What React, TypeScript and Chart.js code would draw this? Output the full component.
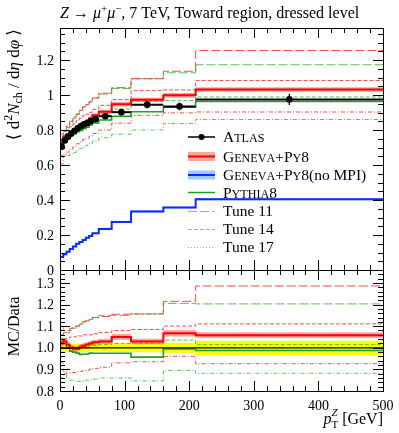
import React, { useEffect, useRef } from 'react';
import { Chart, registerables } from 'chart.js';

Chart.register(...registerables);

// ---------------- data ----------------
const binEdges = [0, 5, 10, 15, 20, 25, 30, 35, 40, 45, 50, 60, 80, 110, 160, 210, 500];

const atlasValues = [0.705, 0.74, 0.762, 0.78, 0.795, 0.81, 0.822, 0.832, 0.84, 0.85, 0.862, 0.879, 0.902, 0.945, 0.935, 0.975];
const atlasErrors = [0.018, 0.016, 0.015, 0.015, 0.015, 0.015, 0.015, 0.015, 0.015, 0.015, 0.015, 0.016, 0.018, 0.02, 0.022, 0.032];

const genevaPy8 = [0.719, 0.762, 0.773, 0.78, 0.791, 0.806, 0.826, 0.84, 0.853, 0.867, 0.884, 0.905, 0.947, 0.973, 0.998, 1.032];
const genevaPy8Err = [0.012, 0.01, 0.01, 0.01, 0.01, 0.01, 0.01, 0.01, 0.01, 0.01, 0.01, 0.011, 0.013, 0.012, 0.014, 0.013];

const genevaNoMPI = [0.075, 0.09, 0.105, 0.12, 0.135, 0.15, 0.16, 0.172, 0.185, 0.195, 0.21, 0.235, 0.275, 0.335, 0.357, 0.405];
const genevaNoMPIErr = [0.005, 0.005, 0.005, 0.005, 0.005, 0.005, 0.005, 0.005, 0.005, 0.005, 0.005, 0.006, 0.006, 0.006, 0.006, 0.006];

const pythia8 = [0.733, 0.755, 0.762, 0.768, 0.779, 0.79, 0.797, 0.807, 0.816, 0.829, 0.84, 0.857, 0.879, 0.904, 0.93, 0.963];

const genevaTune11 = [0.747, 0.792, 0.823, 0.85, 0.875, 0.891, 0.912, 0.932, 0.945, 0.961, 0.983, 1.006, 1.042, 1.093, 1.136, 1.254];
const pythiaTune11 = [0.776, 0.799, 0.815, 0.842, 0.867, 0.891, 0.912, 0.932, 0.945, 0.961, 0.983, 1.011, 1.037, 1.093, 1.127, 1.173];
const genevaTune14 = [0.726, 0.77, 0.796, 0.819, 0.835, 0.855, 0.867, 0.882, 0.89, 0.901, 0.918, 0.941, 0.974, 1.025, 1.029, 1.083];
const pythiaTune14 = [0.747, 0.77, 0.777, 0.788, 0.795, 0.81, 0.822, 0.832, 0.844, 0.859, 0.871, 0.892, 0.92, 0.964, 0.968, 0.989];
const genevaTune17 = [0.606, 0.651, 0.674, 0.69, 0.704, 0.721, 0.732, 0.745, 0.752, 0.765, 0.78, 0.8, 0.839, 0.884, 0.898, 0.903];
const pythiaTune17 = [0.656, 0.659, 0.655, 0.663, 0.672, 0.684, 0.695, 0.703, 0.714, 0.723, 0.737, 0.756, 0.776, 0.8, 0.837, 0.86];

const xTickValues = [0, 100, 200, 300, 400, 500];
const xTickLabels = ['0', '100', '200', '300', '400', '500'];
const yMainTickValues = [0, 0.2, 0.4, 0.6, 0.8, 1, 1.2];
const yMainTickLabels = ['0', '0.2', '0.4', '0.6', '0.8', '1', '1.2'];
const yRatioTickValues = [0.8, 0.9, 1.0, 1.1, 1.2, 1.3];
const yRatioTickLabels = ['0.8', '0.9', '1.0', '1.1', '1.2', '1.3'];

const X_MIN = 0, X_MAX = 500;
const Y_MAIN_MIN = 0, Y_MAIN_MAX = 1.383;
const Y_RATIO_MIN = 0.8, Y_RATIO_MAX = 1.36;

// ---------------- styles ----------------
const SERIF = '"Liberation Serif", "DejaVu Serif", serif';
const font = (size: number, italic = false) => `${italic ? 'italic ' : ''}${size}px ${SERIF}`;

const RED = '#ff0000';
const RED_BAND = 'rgba(255, 90, 80, 0.55)';
const BLUE = '#0a2cff';
const BLUE_BAND = 'rgba(90, 170, 255, 0.6)';
const GREEN = '#1fa01f';
const RED_TUNE = 'rgba(255, 40, 40, 0.85)';
const GREEN_TUNE = 'rgba(60, 185, 60, 0.85)';
const YELLOW = '#ffff00';
const DASH11 = [9, 3];
const DASH14 = [4, 2];
const DASH17 = [4, 2, 1, 2];

// ---------------- helpers ----------------
function stepPoints(values: number[]) {
  const pts: { x: number; y: number }[] = [];
  values.forEach((v, i) => {
    pts.push({ x: binEdges[i], y: v });
    pts.push({ x: binEdges[i + 1], y: v });
  });
  return pts;
}

const ratio = (vals: number[]) => vals.map((v, i) => v / atlasValues[i]);
const plus = (vals: number[], err: number[]) => vals.map((v, i) => v + err[i]);
const minus = (vals: number[], err: number[]) => vals.map((v, i) => v - err[i]);

function lineDs(data: number[], yAxisID: string, color: string, width: number, dash: number[] = []) {
  return {
    type: 'line',
    data: stepPoints(data),
    yAxisID,
    borderColor: color,
    borderWidth: width,
    borderDash: dash,
    pointRadius: 0,
    fill: false,
    tension: 0,
  };
}

function bandDs(lo: number[], hi: number[], yAxisID: string, color: string) {
  return [
    {
      type: 'line',
      data: stepPoints(hi),
      yAxisID,
      borderColor: 'rgba(0,0,0,0)',
      borderWidth: 1,
      pointRadius: 0,
      fill: '+1',
      backgroundColor: color,
      tension: 0,
    },
    {
      type: 'line',
      data: stepPoints(lo),
      yAxisID,
      borderColor: 'rgba(0,0,0,0)',
      borderWidth: 1,
      pointRadius: 0,
      fill: false,
      tension: 0,
    },
  ];
}

// segment; "hold" = do not advance (next segment stacked at the same x)
type Seg = { t: string; f: string; dy?: number; hold?: boolean };

function richWidth(ctx: CanvasRenderingContext2D, segs: Seg[]) {
  let w = 0;
  let held = 0;
  for (const s of segs) {
    ctx.font = s.f;
    const sw = ctx.measureText(s.t).width;
    if (s.hold) {
      held = Math.max(held, sw);
    } else {
      w += Math.max(sw, held);
      held = 0;
    }
  }
  return w + held;
}

function drawRich(ctx: CanvasRenderingContext2D, segs: Seg[], x: number, y: number, align: 'left' | 'right' | 'center') {
  const w = richWidth(ctx, segs);
  let cx = align === 'left' ? x : align === 'right' ? x - w : x - w / 2;
  ctx.textAlign = 'left';
  ctx.textBaseline = 'alphabetic';
  let held = 0;
  for (const s of segs) {
    ctx.font = s.f;
    ctx.fillText(s.t, cx, y + (s.dy || 0));
    const sw = ctx.measureText(s.t).width;
    if (s.hold) {
      held = Math.max(held, sw);
    } else {
      cx += Math.max(sw, held);
      held = 0;
    }
  }
}

function smallCaps(text: string, size: number): Seg[] {
  const segs: Seg[] = [];
  const small = Math.round(size * 0.78 * 10) / 10;
  for (const ch of text) {
    if (ch >= 'a' && ch <= 'z') segs.push({ t: ch.toUpperCase(), f: font(small) });
    else segs.push({ t: ch, f: font(size) });
  }
  return segs;
}

const decorPlugin = {
  id: 'decor',
  afterDatasetsDraw(chart: any) {
    const ctx: CanvasRenderingContext2D = chart.ctx;
    const xs = chart.scales.x;
    const ys = chart.scales.y;
    ctx.save();
    ctx.strokeStyle = '#000';
    atlasValues.forEach((v, i) => {
      const x0 = xs.getPixelForValue(binEdges[i]);
      const x1 = xs.getPixelForValue(binEdges[i + 1]);
      const xc = xs.getPixelForValue((binEdges[i] + binEdges[i + 1]) / 2);
      const yv = ys.getPixelForValue(v);
      ctx.lineWidth = 2;
      ctx.beginPath();
      ctx.moveTo(x0, yv);
      ctx.lineTo(x1, yv);
      ctx.stroke();
      ctx.lineWidth = 1.3;
      ctx.beginPath();
      ctx.moveTo(xc, ys.getPixelForValue(v + atlasErrors[i]));
      ctx.lineTo(xc, ys.getPixelForValue(v - atlasErrors[i]));
      ctx.stroke();
    });
    ctx.restore();
  },
  afterDraw(chart: any) {
    const ctx: CanvasRenderingContext2D = chart.ctx;
    const xs = chart.scales.x;
    const ys = chart.scales.y;
    const yr = chart.scales.y2;
    const L = chart.chartArea.left;
    const R = chart.chartArea.right;
    const T = ys.top;
    const M = ys.bottom;
    const B = yr.bottom;
    ctx.save();
    ctx.strokeStyle = '#000';
    ctx.fillStyle = '#000';
    ctx.lineWidth = 1;

    // frames
    ctx.strokeRect(Math.round(L) + 0.5, Math.round(T) + 0.5, Math.round(R - L), Math.round(B - T));
    ctx.beginPath();
    ctx.moveTo(L, Math.round(M) + 0.5);
    ctx.lineTo(R, Math.round(M) + 0.5);
    ctx.stroke();

    const MAJ = 10, MIN = 5;
    const tick = (x0: number, y0: number, x1: number, y1: number) => {
      ctx.beginPath();
      ctx.moveTo(x0, y0);
      ctx.lineTo(x1, y1);
      ctx.stroke();
    };

    // x ticks
    for (let v = X_MIN; v <= X_MAX + 1e-9; v += 20) {
      const major = xTickValues.some((t) => Math.abs(t - v) < 1e-9);
      const len = major ? MAJ : MIN;
      const px = Math.round(xs.getPixelForValue(v)) + 0.5;
      tick(px, T, px, T + len);
      tick(px, M, px, M - len);
      tick(px, M, px, M + len);
      tick(px, B, px, B - len);
    }
    // y main ticks
    for (let v = Y_MAIN_MIN; v <= Y_MAIN_MAX + 1e-9; v += 0.05) {
      const major = yMainTickValues.some((t) => Math.abs(t - v) < 1e-6);
      const len = major ? MAJ : MIN;
      const py = Math.round(ys.getPixelForValue(v)) + 0.5;
      tick(L, py, L + len, py);
      tick(R, py, R - len, py);
    }
    // y ratio ticks
    for (let v = Y_RATIO_MIN; v <= Y_RATIO_MAX + 1e-9; v += 0.02) {
      const major = yRatioTickValues.some((t) => Math.abs(t - v) < 1e-6);
      const len = major ? MAJ : MIN;
      const py = Math.round(yr.getPixelForValue(v)) + 0.5;
      tick(L, py, L + len, py);
      tick(R, py, R - len, py);
    }

    // tick labels
    ctx.font = font(14);
    ctx.textAlign = 'center';
    ctx.textBaseline = 'alphabetic';
    xTickValues.forEach((v, i) => {
      ctx.fillText(xTickLabels[i], xs.getPixelForValue(v), B + 19);
    });
    ctx.textAlign = 'right';
    ctx.textBaseline = 'middle';
    yMainTickValues.forEach((v, i) => {
      ctx.fillText(yMainTickLabels[i], L - 6, ys.getPixelForValue(v) + 1);
    });
    yRatioTickValues.forEach((v, i) => {
      ctx.fillText(yRatioTickLabels[i], L - 6, yr.getPixelForValue(v) + 1);
    });

    // title
    drawRich(
      ctx,
      [
        { t: 'Z', f: font(16, true) },
        { t: ' → ', f: font(16) },
        { t: 'μ', f: font(16, true) },
        { t: '+', f: font(11), dy: -6 },
        { t: 'μ', f: font(16, true) },
        { t: '−', f: font(11), dy: -6 },
        { t: ', 7 TeV, Toward region, dressed level', f: font(16) },
      ],
      L,
      18,
      'left'
    );

    // x axis title
    drawRich(
      ctx,
      [
        { t: 'p', f: font(16, true) },
        { t: 'T', f: font(11), dy: 4, hold: true },
        { t: 'Z', f: font(11, true), dy: -8 },
        { t: ' [GeV]', f: font(16) },
      ],
      R,
      B + 33,
      'right'
    );

    // y axis titles (rotated)
    ctx.save();
    ctx.translate(19, T);
    ctx.rotate(-Math.PI / 2);
    drawRich(
      ctx,
      [
        { t: '⟨ d', f: font(17) },
        { t: '2', f: font(12), dy: -7 },
        { t: 'N', f: font(17, true) },
        { t: 'ch', f: font(12), dy: 3 },
        { t: ' / d', f: font(17) },
        { t: 'η', f: font(17, true) },
        { t: ' d', f: font(17) },
        { t: 'φ', f: font(17, true) },
        { t: ' ⟩', f: font(17) },
      ],
      -1,
      0,
      'right'
    );
    ctx.restore();

    ctx.save();
    ctx.translate(19, (M + B) / 2 - 4);
    ctx.rotate(-Math.PI / 2);
    drawRich(ctx, [{ t: 'MC/Data', f: font(16) }], 0, 0, 'center');
    ctx.restore();

    // legend
    const LF = 15.5;
    const lx0 = 188, lx1 = 215, tx = 223;
    const rows = [137, 156.5, 175, 192.5, 211, 229, 247];
    const legendText = (segs: Seg[], y: number) => drawRich(ctx, segs, tx, y + 5, 'left');
    ctx.strokeStyle = '#000';
    ctx.lineWidth = 1.5;
    tick(lx0, rows[0], lx1, rows[0]);
    ctx.beginPath();
    ctx.arc((lx0 + lx1) / 2, rows[0], 3, 0, Math.PI * 2);
    ctx.fill();
    legendText(smallCaps('Atlas', LF), rows[0]);

    ctx.fillStyle = RED_BAND;
    ctx.fillRect(lx0, rows[1] - 4.5, lx1 - lx0, 9);
    ctx.strokeStyle = RED;
    ctx.lineWidth = 2;
    tick(lx0, rows[1], lx1, rows[1]);
    ctx.fillStyle = '#000';
    legendText([...smallCaps('Geneva', LF), { t: '+', f: font(LF) }, ...smallCaps('Py8', LF)], rows[1]);

    ctx.fillStyle = BLUE_BAND;
    ctx.fillRect(lx0, rows[2] - 4.5, lx1 - lx0, 9);
    ctx.strokeStyle = BLUE;
    ctx.lineWidth = 2;
    tick(lx0, rows[2], lx1, rows[2]);
    ctx.fillStyle = '#000';
    legendText(
      [...smallCaps('Geneva', LF), { t: '+', f: font(LF) }, ...smallCaps('Py8', LF), { t: '(no MPI)', f: font(LF) }],
      rows[2]
    );

    ctx.strokeStyle = GREEN;
    ctx.lineWidth = 1.5;
    tick(lx0, rows[3], lx1, rows[3]);
    legendText(smallCaps('Pythia8', LF), rows[3]);

    const tunes: [string, number[]][] = [
      ['Tune 11', DASH11],
      ['Tune 14', DASH14],
      ['Tune 17', [1, 2]],
    ];
    tunes.forEach(([label, dash], k) => {
      ctx.strokeStyle = '#aaaaaa';
      ctx.lineWidth = 1;
      ctx.setLineDash(dash);
      tick(lx0, rows[4 + k] + 0.5, lx1, rows[4 + k] + 0.5);
      ctx.setLineDash([]);
      legendText([{ t: label, f: font(LF) }], rows[4 + k]);
    });

    ctx.restore();
  },
};

export default function App() {
  const canvasRef = useRef<HTMLCanvasElement | null>(null);

  useEffect(() => {
    const canvas = canvasRef.current;
    if (!canvas) return;

    const datasets: any[] = [
      {
        type: 'line',
        data: atlasValues.map((v, i) => ({ x: (binEdges[i] + binEdges[i + 1]) / 2, y: v })),
        yAxisID: 'y',
        showLine: false,
        pointRadius: 3.3,
        pointBackgroundColor: '#000',
        pointBorderColor: '#000',
        pointBorderWidth: 0,
      },
      lineDs(genevaPy8, 'y', RED, 2),
      ...bandDs(minus(genevaPy8, genevaPy8Err), plus(genevaPy8, genevaPy8Err), 'y', RED_BAND),
      lineDs(genevaNoMPI, 'y', BLUE, 2),
      ...bandDs(minus(genevaNoMPI, genevaNoMPIErr), plus(genevaNoMPI, genevaNoMPIErr), 'y', BLUE_BAND),
      lineDs(pythia8, 'y', GREEN, 1.6),
      lineDs(genevaTune11, 'y', RED_TUNE, 1, DASH11),
      lineDs(pythiaTune11, 'y', GREEN_TUNE, 1, DASH11),
      lineDs(genevaTune14, 'y', RED_TUNE, 1, DASH14),
      lineDs(pythiaTune14, 'y', GREEN_TUNE, 1, DASH14),
      lineDs(genevaTune17, 'y', RED_TUNE, 1, DASH17),
      lineDs(pythiaTune17, 'y', GREEN_TUNE, 1, DASH17),
      lineDs(atlasValues.map(() => 1), 'y2', '#000', 1.2),
      lineDs(ratio(genevaPy8), 'y2', RED, 2),
      ...bandDs(ratio(minus(genevaPy8, genevaPy8Err)), ratio(plus(genevaPy8, genevaPy8Err)), 'y2', RED_BAND),
      lineDs(ratio(pythia8), 'y2', GREEN, 1.6),
      lineDs(ratio(genevaTune11), 'y2', RED_TUNE, 1, DASH11),
      lineDs(ratio(pythiaTune11), 'y2', GREEN_TUNE, 1, DASH11),
      lineDs(ratio(genevaTune14), 'y2', RED_TUNE, 1, DASH14),
      lineDs(ratio(pythiaTune14), 'y2', GREEN_TUNE, 1, DASH14),
      lineDs(ratio(genevaTune17), 'y2', RED_TUNE, 1, DASH17),
      lineDs(ratio(pythiaTune17), 'y2', GREEN_TUNE, 1, DASH17),
      ...bandDs(ratio(minus(atlasValues, atlasErrors)), ratio(plus(atlasValues, atlasErrors)), 'y2', YELLOW),
    ];

    const hiddenAxis = {
      ticks: { display: false },
      grid: { display: false, drawTicks: false },
      border: { display: false },
      title: { display: false },
    };

    const chart = new Chart(canvas, {
      type: 'line',
      data: { datasets },
      options: {
        responsive: false,
        animation: false,
        events: [],
        layout: { padding: { top: 28, left: 60, right: 16, bottom: 42 } },
        plugins: {
          legend: { display: false },
          tooltip: { enabled: false },
          title: { display: false },
        },
        scales: {
          x: {
            type: 'linear',
            min: X_MIN,
            max: X_MAX,
            ...hiddenAxis,
            afterFit: (s: any) => {
              s.height = 0;
            },
          },
          y2: {
            type: 'linear',
            position: 'left',
            stack: 'panels',
            stackWeight: 1,
            min: Y_RATIO_MIN,
            max: Y_RATIO_MAX,
            ...hiddenAxis,
            afterFit: (s: any) => {
              s.width = 0;
            },
          },
          y: {
            type: 'linear',
            position: 'left',
            stack: 'panels',
            stackWeight: 2,
            min: Y_MAIN_MIN,
            max: Y_MAIN_MAX,
            ...hiddenAxis,
            afterFit: (s: any) => {
              s.width = 0;
            },
          },
        },
      } as any,
      plugins: [decorPlugin],
    });

    return () => {
      chart.destroy();
    };
  }, []);

  return (
    <div style={{ position: 'absolute', left: 0, top: 0, width: 399, height: 433, background: '#fff' }}>
      <canvas ref={canvasRef} width={399} height={433} style={{ display: 'block' }} />
    </div>
  );
}
